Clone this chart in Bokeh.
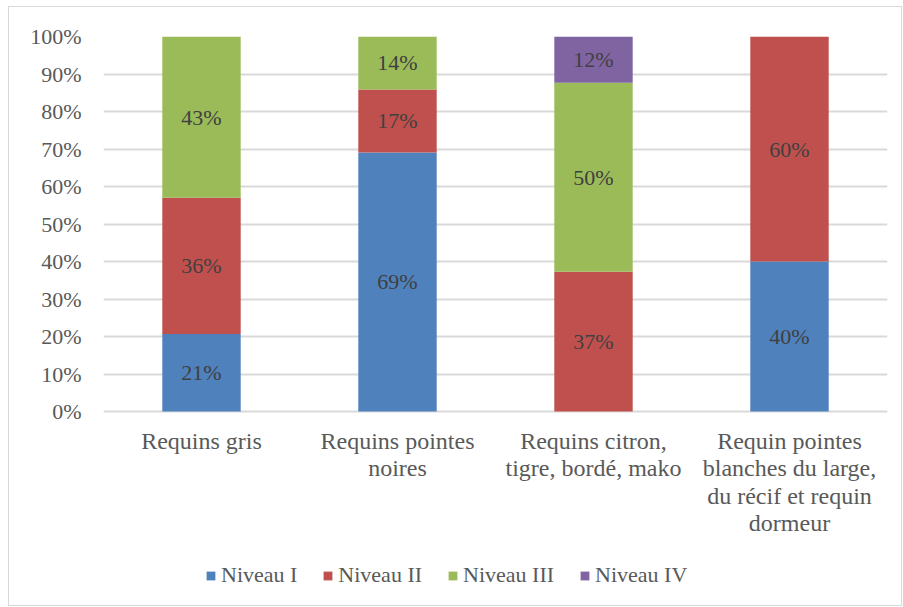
from bokeh.plotting import figure
from bokeh.models import ColumnDataSource, FixedTicker, NumeralTickFormatter, Legend, Range1d
from bokeh.core.properties import value
from bokeh.embed import file_html
from bokeh.resources import INLINE

categories = ["Requins gris", "Requins pointes noires", "Requins citron, tigre, bordé, mako",
              "Requin pointes blanches du large, du récif et requin dormeur"]
label_lines = [
    ["Requins gris", "Requins pointes", "Requins citron,", "Requin pointes"],
    ["", "noires", "tigre, bordé, mako", "blanches du large,"],
    ["", "", "", "du récif et requin"],
    ["", "", "", "dormeur"],
]
niveau_1 = [0.207, 0.691, 0.0, 0.40]
niveau_2 = [0.363, 0.168, 0.373, 0.60]
niveau_3 = [0.430, 0.141, 0.504, 0.0]
niveau_4 = [0.0, 0.0, 0.123, 0.0]
series = ["Niveau I", "Niveau II", "Niveau III", "Niveau IV"]
colors = ["#4f81bd", "#c0504d", "#9bbb59", "#8064a2"]
y_ticks = [0, 0.1, 0.2, 0.3, 0.4, 0.5, 0.6, 0.7, 0.8, 0.9, 1.0]

FONT = "Liberation Serif, Times New Roman, serif"
values = [niveau_1, niveau_2, niveau_3, niveau_4]
xs = [i + 0.5 for i in range(len(categories))]

PX = 375.0  # pixels per unit of y (frame 0..1 -> 375 px)
src = ColumnDataSource(dict(x=xs, cat=categories, **{s: v for s, v in zip(series, values)}))

p = figure(x_range=Range1d(0, len(categories)), y_range=Range1d(-189 / PX, 1.0),
           frame_width=784, frame_height=564, output_backend="svg", toolbar_location=None,
           min_border_left=94, min_border_right=14, min_border_top=29, min_border_bottom=5,
           x_axis_type=None)
p.styles = {"border": "1px solid #d9d9d9", "margin-left": "8px", "margin-top": "6px"}
p.outline_line_color = None

rs = p.vbar_stack(series, x="x", width=0.4, source=src, color=colors, line_color=None)

# data labels
lx, ly, lt = [], [], []
for i, x in enumerate(xs):
    base = 0.0
    for v in values:
        val = v[i]
        if val > 0:
            lx.append(x)
            ly.append(base + val / 2)
            lt.append(f"{round(val * 100):d}%")
        base += val
p.text(x=lx, y=ly, text=lt, text_align="center", text_baseline="middle",
       text_font=value(FONT), text_font_size="22px", text_color="#404040")

# category labels (wrapped lines below the bars)
cx, cy, ct = [], [], []
for k, lines in enumerate(label_lines):
    for x, t in zip(xs, lines):
        if t:
            cx.append(x)
            cy.append(-(29 + 27.6 * k) / PX)
            ct.append(t)
p.text(x=cx, y=cy, text=ct, text_align="center", text_baseline="middle",
       text_font=value(FONT), text_font_size="24px", text_color="#595959")

# y axis
p.yaxis.ticker = FixedTicker(ticks=y_ticks)
p.yaxis.formatter = NumeralTickFormatter(format="0%")
p.yaxis.axis_line_color = None
p.yaxis.major_tick_line_color = None
p.yaxis.minor_tick_line_color = None
p.yaxis.major_tick_out = 0
p.yaxis.major_label_text_font = FONT
p.yaxis.major_label_text_font_size = "22px"
p.yaxis.major_label_text_color = "#595959"
p.yaxis.major_label_standoff = 22

p.xgrid.grid_line_color = None
p.ygrid.grid_line_color = "#d9d9d9"
p.ygrid.grid_line_width = 2
p.ygrid.ticker = FixedTicker(ticks=y_ticks)

legend = Legend(items=[(s, [r]) for s, r in zip(series, rs)], orientation="horizontal",
                location=(102, 12), border_line_color=None, background_fill_alpha=0,
                label_text_font=FONT, label_text_font_size="22px", label_text_color="#595959",
                glyph_width=11, glyph_height=11, spacing=25, label_standoff=5, margin=0, padding=0)
p.add_layout(legend, "center")

open("out.html", "w").write(file_html(p, INLINE))
